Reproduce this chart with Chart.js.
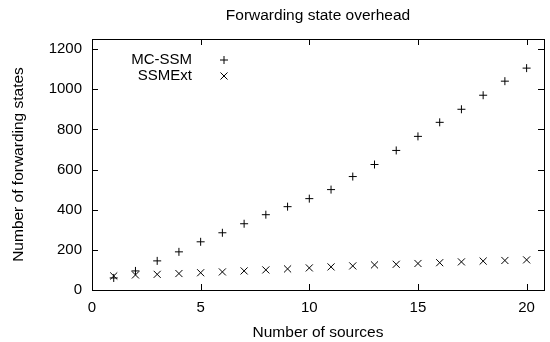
<!DOCTYPE html>
<html>
<head>
<meta charset="utf-8">
<script src="https://cdn.jsdelivr.net/npm/chart.js@4/dist/chart.umd.min.js"></script>
<style>
  body { margin: 0; background: #fff; }
  #wrap { width: 550px; height: 342px; }
</style>
</head>
<body>
<div id="wrap"><canvas id="chart"></canvas></div>
<script>
const sources = [1, 2, 3, 4, 5, 6, 7, 8, 9, 10, 11, 12, 13, 14, 15, 16, 17, 18, 19, 20];
const mcSsm = [60, 95, 145, 190, 240, 285, 330, 375, 415, 455, 500, 565, 625, 695, 765, 835, 900, 970, 1040, 1105];
const ssmExt = [70, 75, 78, 82, 86, 90, 95, 100, 105, 110, 115, 120, 125, 128, 132, 136, 140, 144, 147, 150];
const xTicks = [0, 5, 10, 15, 20];
const yTicks = [0, 200, 400, 600, 800, 1000, 1200];
const titleText = 'Forwarding state overhead';

const FONT = "'Liberation Sans', Arial, sans-serif";

// gnuplot style: full frame with inward ticks on all four sides
const frame = {
    id: 'frame',
    afterDraw(chart) {
        const { ctx, chartArea: a, scales } = chart;
        ctx.save();
        ctx.strokeStyle = '#000';
        ctx.lineWidth = 1;
        ctx.strokeRect(a.left + 0.5, a.top + 0.5, a.right - a.left, a.bottom - a.top);
        ctx.beginPath();
        xTicks.forEach(v => {
            const x = Math.round(scales.x.getPixelForValue(v)) + 0.5;
            ctx.moveTo(x, a.bottom); ctx.lineTo(x, a.bottom - 6);
            ctx.moveTo(x, a.top); ctx.lineTo(x, a.top + 6);
        });
        yTicks.forEach(v => {
            const y = Math.round(scales.y.getPixelForValue(v)) + 0.5;
            ctx.moveTo(a.left, y); ctx.lineTo(a.left + 6, y);
            ctx.moveTo(a.right, y); ctx.lineTo(a.right - 6, y);
        });
        ctx.stroke();

        ctx.fillStyle = '#000';
        ctx.textBaseline = 'middle';

        // title centred over the plot, not the canvas
        ctx.font = '15.5px ' + FONT;
        ctx.textAlign = 'center';
        ctx.fillText(titleText, (a.left + a.right) / 2, 16);

        // key, top left inside the frame
        ctx.font = '15px ' + FONT;
        ctx.textAlign = 'right';
        const key = [['MC-SSM', 'cross', 4, 60], ['SSMExt', 'crossRot', 5, 76]];
        key.forEach(([label, style, r, y]) => {
            ctx.fillText(label, 192, y);
            Chart.helpers.drawPoint(ctx, { pointStyle: style, radius: r, borderWidth: 1 }, 224, y);
        });
        ctx.restore();
    }
};

new Chart(document.getElementById('chart'), {
    type: 'scatter',
    data: {
        datasets: [
            {
                label: 'MC-SSM',
                data: sources.map((s, i) => ({ x: s, y: mcSsm[i] })),
                pointStyle: 'cross',
                pointRadius: 4,
                borderColor: '#000',
                borderWidth: 1
            },
            {
                label: 'SSMExt',
                data: sources.map((s, i) => ({ x: s, y: ssmExt[i] })),
                pointStyle: 'crossRot',
                pointRadius: 5,
                borderColor: '#000',
                borderWidth: 1
            }
        ]
    },
    options: {
        responsive: true,
        maintainAspectRatio: false,
        animation: false,
        layout: { padding: { left: 0, right: 2, top: 39, bottom: 0 } },
        plugins: {
            legend: { display: false },
            tooltip: { enabled: false },
            title: { display: false }
        },
        scales: {
            x: {
                type: 'linear',
                min: 0,
                max: 20.8,
                afterBuildTicks: s => { s.ticks = xTicks.map(v => ({ value: v })); },
                afterFit: s => { s.height = 52; },
                grid: { display: false, drawTicks: false },
                border: { display: false },
                ticks: { color: '#000', font: { family: FONT, size: 15 }, padding: 9, maxRotation: 0, callback: v => String(v) },
                title: {
                    display: true,
                    text: 'Number of sources',
                    color: '#000',
                    font: { family: FONT, size: 15.5 },
                    padding: { top: 4, bottom: 0 }
                }
            },
            y: {
                type: 'linear',
                min: 0,
                max: 1250,
                afterBuildTicks: s => { s.ticks = yTicks.map(v => ({ value: v })); },
                afterFit: s => { s.width = 92; },
                grid: { display: false, drawTicks: false },
                border: { display: false },
                ticks: { color: '#000', font: { family: FONT, size: 15 }, padding: 10, callback: v => String(v) },
                title: {
                    display: true,
                    text: 'Number of forwarding states',
                    color: '#000',
                    font: { family: FONT, size: 15.5 },
                    padding: { top: 9, bottom: 0 }
                }
            }
        }
    },
    plugins: [frame]
});
</script>
</body>
</html>
